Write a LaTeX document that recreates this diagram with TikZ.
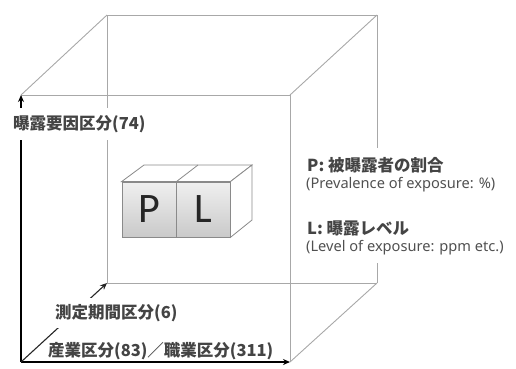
\documentclass[tikz,border=0pt]{standalone}
\usepackage{fontspec}
\newfontfamily\jp{Noto Sans CJK JP}
\newfontfamily\lat{Carlito}
\newfontfamily\eng{Noto Sans}
\usetikzlibrary{arrows.meta}
\definecolor{edge}{HTML}{A8A8A8}
\definecolor{boxedge}{HTML}{8A8A8A}
\definecolor{txt}{HTML}{444444}
\definecolor{txtl}{HTML}{505050}
\begin{document}
\begin{tikzpicture}[x=1pt,y=-1pt,
  cube/.style={draw=edge,line width=0.9pt},
  axisline/.style={draw=black,line width=1.6pt,-{Stealth[length=7pt,width=6pt]}},
  daxis/.style={draw=black!85,line width=1.1pt,-{Stealth[length=7pt,width=6pt]}},
  jlab/.style={font=\jp\fontsize{16.5}{17}\selectfont\bfseries,text=txt,anchor=west,inner sep=1pt},
  elab/.style={font=\eng\fontsize{14.6}{15}\selectfont,text=txtl,anchor=west,inner sep=1pt},
  face/.style={draw=boxedge,line width=0.8pt,top color=gray!12,bottom color=gray!42,minimum width=54pt,minimum height=55pt,inner sep=0pt,font=\lat\fontsize{42}{42}\selectfont,text=black!85},
  boxline/.style={draw=boxedge,line width=0.8pt}]
\useasboundingbox (0,0) rectangle (516,368);
% cube corners
\coordinate (F0) at (21,362);
\coordinate (F1) at (290,362);
\coordinate (F2) at (290,95);
\coordinate (F3) at (21,95);
\coordinate (B0) at (107,283);
\coordinate (B1) at (377,283);
\coordinate (B2) at (377,15);
\coordinate (B3) at (107,15);
\coordinate (G1) at (377,148);
\coordinate (G2) at (377,263);
% cube edges
\draw[cube] (B0) -- (B3);
\draw[cube] (B0) -- (B1);
\draw[cube] (B3) -- (B2);
\draw[cube] (B2) -- (G1);
\draw[cube] (G2) -- (B1);
\draw[cube] (F3) -- (B3);
\draw[cube] (F2) -- (B2);
\draw[cube] (F1) -- (B1);
\draw[cube] (F3) -- (F2);
\draw[cube] (F2) -- (F1);
% axes
\draw[axisline] (F0) -- (F3);
\draw[axisline] (F0) -- (F1);
\draw[daxis] (F0) -- (B0);
% axis labels
\node[jlab,fill=white,inner ysep=7pt] (ylab) at (12,124) {曝露要因区分(74)};
\node[jlab,fill=white,inner ysep=6pt] (dlab) at (54,313) {測定期間区分(6)};
\node[jlab] (xlab) at (47,351) {産業区分(83)／職業区分(311)};
% small boxes
\node[face] (P) at (149,209.5) {P};
\node[face] (L) at (203,209.5) {L};
\coordinate (q5) at (144,165);
\coordinate (q4) at (198,165);
\coordinate (q3) at (252,165);
\coordinate (q2) at (252,220);
\draw[boxline,fill=white] (P.north west) -- (q5) -- (q3) -- (L.north east) -- cycle;
\draw[boxline] (P.north east) -- (q4);
\draw[boxline,fill=white] (L.north east) -- (q3) -- (q2) -- (L.south east) -- cycle;
% legend
\node[jlab] (pj) at (306,165) {P: 被曝露者の割合};
\node[elab] (pe) at (305,185) {(Prevalence of exposure: \%)};
\node[jlab] (lj) at (306,228) {L: 曝露レベル};
\node[elab] (le) at (305,248) {(Level of exposure: ppm etc.)};
\end{tikzpicture}
\end{document}
